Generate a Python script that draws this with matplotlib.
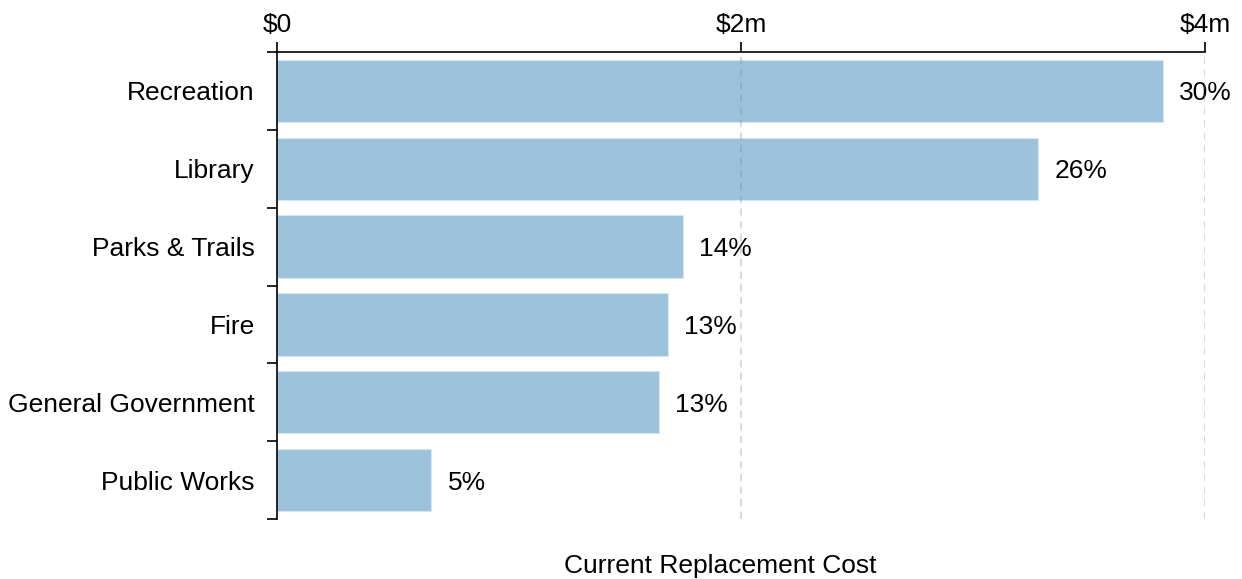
import matplotlib.pyplot as plt
import numpy as np

plt.rcParams['font.family'] = ['Liberation Sans', 'DejaVu Sans']

# replacement cost by department, in $ millions
categories = ["Recreation", "Library", "Parks & Trails", "Fire",
              "General Government", "Public Works"]
cost_m = [3.82, 3.28, 1.75, 1.685, 1.646, 0.665]
tick_vals = [0, 2, 4]
tick_labels = ["$0", "$2m", "$4m"]

share = np.array(cost_m) / sum(cost_m) * 100

fig = plt.figure(figsize=(12.42, 5.79), dpi=100)
ax = fig.add_axes([277 / 1242, 1 - 519 / 579, (1205 - 277) / 1242, (519 - 52) / 579])

y = np.arange(len(categories))
ax.barh(y, cost_m, height=0.8, color="#9cc2db", edgecolor="#d6e6f0",
        linewidth=0.8, zorder=1)

for yi, v, p in zip(y, cost_m, share):
    ax.text(v + 0.07, yi, f"{p:.0f}%", va="center_baseline", ha="left",
            fontsize=19)

# dashed reference lines drawn over the bars
for t in tick_vals[1:]:
    ax.axvline(t, color="#888888", linestyle=(0, (4, 3)), linewidth=1.3,
               alpha=0.35, zorder=3)

ax.set_xlim(0, 4)
ax.set_ylim(len(categories) - 0.5, -0.5)

ax.xaxis.tick_top()
ax.set_xticks(tick_vals)
ax.set_xticklabels(tick_labels, fontsize=19)
ax.tick_params(axis="x", length=7, width=1.2, pad=4)

ax.set_yticks(y)
ax.set_yticklabels(categories, fontsize=19)
ax.set_yticks(np.arange(-0.5, len(categories)), minor=True)
ax.tick_params(axis="y", which="major", length=0, pad=16)
ax.tick_params(axis="y", which="minor", length=7, width=1.2)

for s in ["right", "bottom"]:
    ax.spines[s].set_visible(False)
for s in ["left", "top"]:
    ax.spines[s].set_linewidth(1.2)

fig.text(720 / 1242, 1 - 566 / 579, "Current Replacement Cost",
         ha="center", va="center", fontsize=19)

fig.savefig("out.png", dpi=100)
